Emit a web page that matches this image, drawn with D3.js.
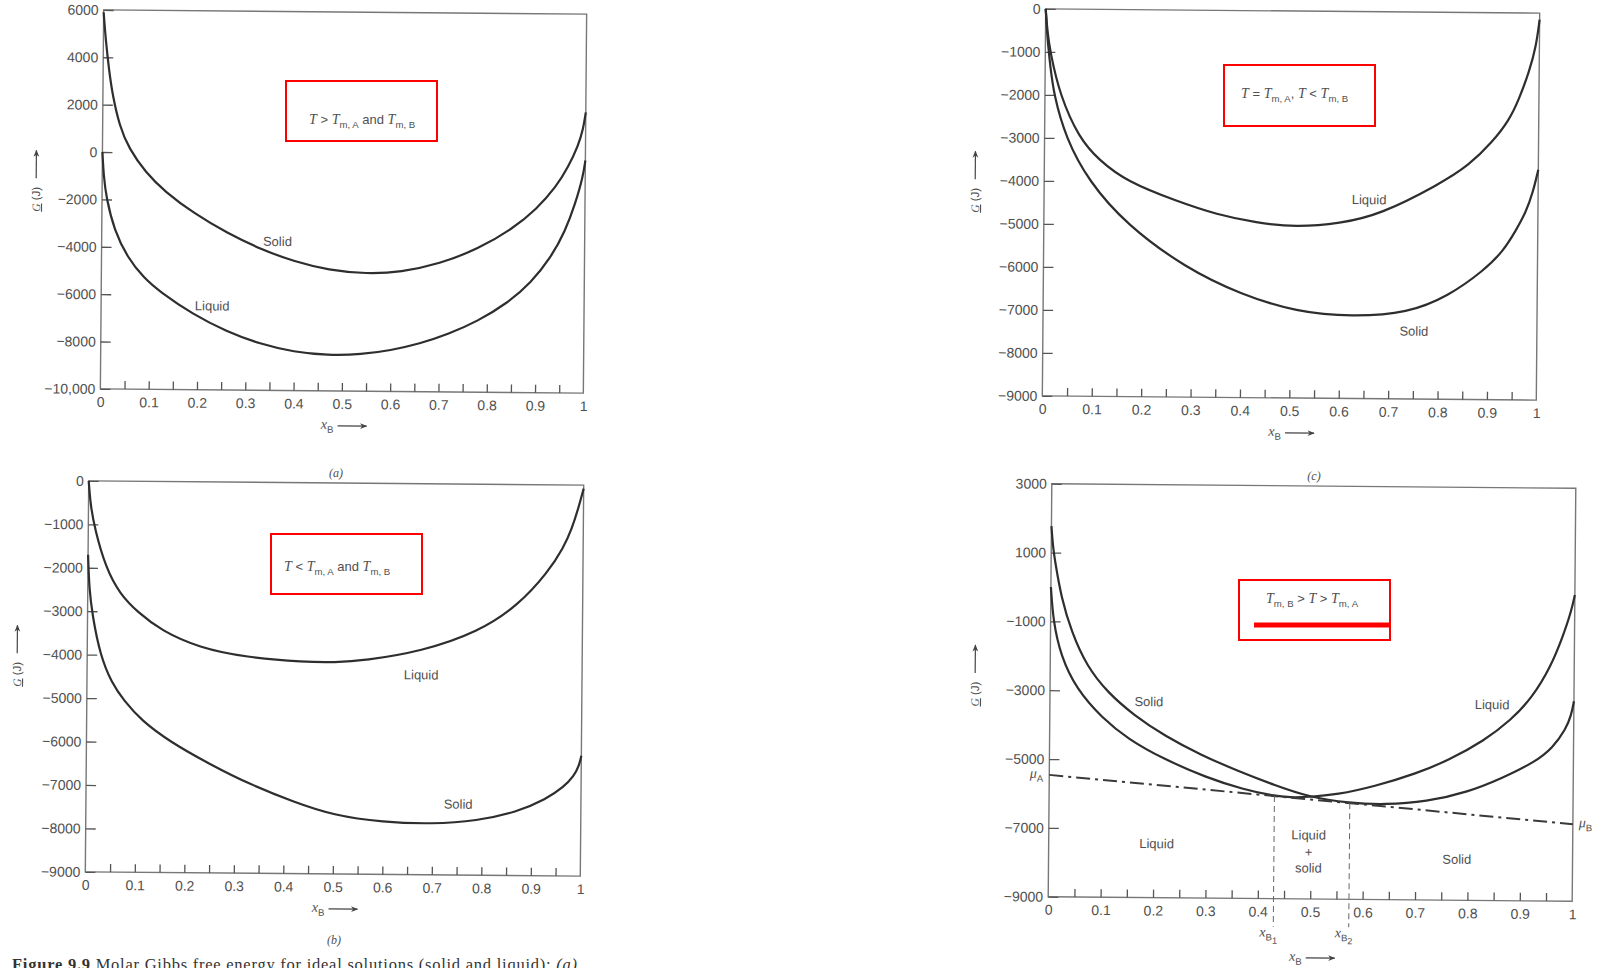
<!DOCTYPE html>
<html>
<head>
<meta charset="utf-8">
<script src="https://cdn.jsdelivr.net/npm/d3@7"></script>
<style>
body { margin: 0; background: #fff; }
svg { display: block; }
</style>
</head>
<body>
<svg id="chart" width="1601" height="968"></svg>
<script>
// tick values shared by the panels
var xLabels = [0, 0.1, 0.2, 0.3, 0.4, 0.5, 0.6, 0.7, 0.8, 0.9, 1];
var xMinor = [0.05, 0.1, 0.15, 0.2, 0.25, 0.3, 0.35, 0.4, 0.45, 0.5, 0.55, 0.6, 0.65, 0.7, 0.75, 0.8, 0.85, 0.9, 0.95];
var yTicksA = [6000, 4000, 2000, 0, -2000, -4000, -6000, -8000, -10000];
var yTicksB = [0, -1000, -2000, -3000, -4000, -5000, -6000, -7000, -8000, -9000];
var yTicksC = [0, -1000, -2000, -3000, -4000, -5000, -6000, -7000, -8000, -9000];
var yTicksD = [3000, 1000, -1000, -3000, -5000, -7000, -9000];

// (a) T > Tm,A and Tm,B   [xB, G in J]
var solidA = [[0, 5900], [0.005, 4700], [0.012, 3500], [0.02, 2400], [0.035, 1100], [0.055, 150], [0.09, -850],
  [0.13, -1650], [0.19, -2550], [0.26, -3380], [0.33, -4050], [0.4, -4560], [0.47, -4900], [0.55, -5050],
  [0.62, -4960], [0.7, -4600], [0.78, -3950], [0.85, -3100], [0.9, -2250], [0.94, -1300], [0.965, -450],
  [0.985, 450], [0.995, 1150], [1, 1850]];
var liquidA = [[0, 0], [0.003, -1000], [0.009, -1950], [0.026, -3300], [0.054, -4450], [0.088, -5300],
  [0.121, -5870], [0.19, -6820], [0.26, -7530], [0.33, -8050], [0.4, -8370], [0.47, -8500], [0.54, -8450],
  [0.6, -8270], [0.66, -7980], [0.72, -7560], [0.78, -7000], [0.84, -6250], [0.89, -5350], [0.93, -4300],
  [0.96, -3150], [0.98, -2000], [0.995, -900], [1, -180]];

// (b) T < Tm,A and Tm,B
var liquidB = [[0, 0], [0.004, -550], [0.013, -1100], [0.036, -2000], [0.065, -2600], [0.102, -3020],
  [0.149, -3430], [0.226, -3820], [0.32, -4030], [0.44, -4130], [0.5, -4130], [0.56, -4080], [0.675, -3860],
  [0.79, -3400], [0.87, -2780], [0.93, -2000], [0.96, -1450], [0.977, -1000], [0.99, -520], [1, -80]];
var solidB = [[0, -1700], [0.003, -2500], [0.01, -3100], [0.026, -4000], [0.05, -4650], [0.075, -5050],
  [0.11, -5500], [0.17, -6000], [0.25, -6500], [0.33, -6950], [0.42, -7350], [0.5, -7650], [0.6, -7800],
  [0.7, -7830], [0.79, -7750], [0.87, -7540], [0.93, -7230], [0.965, -6950], [0.985, -6700], [0.995, -6480],
  [1, -6230]];

// (c) T = Tm,A, T < Tm,B
var liquidC = [[0, 0], [0.004, -550], [0.01, -1000], [0.03, -2000], [0.07, -3000], [0.11, -3500],
  [0.167, -4000], [0.27, -4450], [0.35, -4750], [0.43, -4930], [0.51, -5030], [0.6, -4930], [0.68, -4720],
  [0.8, -4000], [0.86, -3550], [0.907, -3000], [0.94, -2500], [0.96, -2000], [0.98, -1350], [0.993, -800],
  [1, -150]];
var solidC = [[0, 0], [0.004, -700], [0.01, -1300], [0.018, -2000], [0.043, -3000], [0.09, -4000],
  [0.167, -5000], [0.288, -6000], [0.4, -6600], [0.513, -7000], [0.626, -7100], [0.739, -7000], [0.82, -6600],
  [0.891, -6000], [0.93, -5550], [0.956, -5050], [0.975, -4650], [0.99, -4150], [1, -3640]];

// (d) Tm,B > T > Tm,A
var solidD = [[0, 1770], [0.003, 1200], [0.008, 700], [0.02, -300], [0.04, -1300], [0.07, -2300],
  [0.11, -3050], [0.16, -3700], [0.22, -4300], [0.29, -4850], [0.36, -5300], [0.43, -5700], [0.495, -6035],
  [0.574, -6206], [0.64, -6240], [0.72, -6150], [0.8, -5850], [0.863, -5450], [0.927, -4960], [0.96, -4550],
  [0.985, -4000], [0.995, -3600], [1, -3190]];
var liquidD = [[0, 0], [0.005, -1000], [0.02, -2000], [0.05, -2950], [0.1, -3800], [0.15, -4400],
  [0.215, -4950], [0.3, -5500], [0.37, -5830], [0.43, -6020], [0.46, -6055], [0.495, -6040], [0.55, -5960],
  [0.62, -5720], [0.7, -5330], [0.76, -4950], [0.83, -4350], [0.88, -3750], [0.92, -3100], [0.955, -2200],
  [0.978, -1300], [0.993, -600], [1, -100]];
var tangentD = [[0, -5460], [1, -6760]];
var splitD = [0.43, 0.574];

var tilt = 0.5;
var inkText = "#505050";
var sans = "'Liberation Sans', Arial, sans-serif";
var serif = "'Liberation Serif', 'Times New Roman', serif";

var panels = [
  { tag: "(a)", left: 102, top: 12, right: 585, bottom: 391, yDomain: [-10000, 6000], yTicks: yTicksA,
    curves: [solidA, liquidA], labels: [["Solid", 0.364, -3710], ["Liquid", 0.23, -6454]],
    yTitle: [36, 202], tagPos: [336, 477] },
  { tag: "(b)", left: 87, top: 483, right: 582, bottom: 874, yDomain: [-9000, 0], yTicks: yTicksB,
    curves: [liquidB, solidB], labels: [["Liquid", 0.675, -4397], ["Solid", 0.752, -7366]],
    yTitle: [17, 677], tagPos: [334, 944] },
  { tag: "(c)", left: 1044, top: 11, right: 1538, bottom: 398, yDomain: [-9000, 0], yTicks: yTicksC,
    curves: [liquidC, solidC], labels: [["Liquid", 0.658, -4372], ["Solid", 0.751, -7419]],
    yTitle: [975, 203], tagPos: [1314, 480] },
  { tag: null, left: 1050, top: 486, right: 1574, bottom: 899, yDomain: [-9000, 3000], yTicks: yTicksD,
    curves: [solidD, liquidD],
    labels: [["Solid", 0.189, -3305], ["Liquid", 0.844, -3305], ["Liquid", 0.206, -7430],
             ["Liquid", 0.496, -7140], ["+", 0.496, -7633], ["solid", 0.496, -8098], ["Solid", 0.779, -7808]],
    yTitle: [975, 697], xTitleGap: 62 }
];

var svg = d3.select("#chart");
svg.append("rect").attr("width", 1601).attr("height", 968).attr("fill", "#fff");

var defs = svg.append("defs");
defs.append("marker").attr("id", "arr").attr("viewBox", "0 0 10 10")
  .attr("refX", 9).attr("refY", 5).attr("markerWidth", 6).attr("markerHeight", 6)
  .attr("orient", "auto")
  .append("path").attr("d", "M0,1 L10,5 L0,9 L3,5 Z").attr("fill", "#444");

function fmtG(v) {
  var a = Math.abs(v);
  var s = a >= 10000 ? d3.format(",")(a) : String(a);
  return v < 0 ? "\u2212" + s : s;
}
function fmtX(v) { return (v === 0 || v === 1) ? String(v) : v.toFixed(1); }

function styleAxis(sel) {
  sel.select(".domain").remove();
  sel.selectAll("line").attr("stroke", "#555").attr("stroke-width", 1.3);
  sel.selectAll("text").attr("fill", inkText).attr("font-family", sans).attr("font-size", 14);
}

// text built from pieces: it = italic serif, sub = subscript
function rich(parent, x, y, parts, size, anchor) {
  var t = parent.append("text").attr("x", x).attr("y", y).attr("fill", inkText)
    .attr("font-family", sans).attr("font-size", size).attr("text-anchor", anchor || "start");
  var shift = 0;
  parts.forEach(function(p) {
    var s = t.append("tspan").text(p[0]);
    var want = p[1] === "sub" ? Math.round(size * 0.28) : p[1] === "sub2" ? Math.round(size * 0.5) : 0;
    if (want !== shift) { s.attr("dy", want - shift); shift = want; }
    if (p[1] === "it") s.attr("font-family", serif).attr("font-style", "italic").attr("font-size", size * 1.08);
    if (p[1] === "sub") s.attr("font-size", size * 0.74);
    if (p[1] === "sub2") s.attr("font-size", size * 0.7);
  });
  return t;
}

function drawPanel(p) {
  var x = d3.scaleLinear().domain([0, 1]).range([p.left, p.right]);
  var y = d3.scaleLinear().domain(p.yDomain).range([p.bottom, p.top]);
  var cx = (p.left + p.right) / 2, cy = (p.top + p.bottom) / 2;
  var g = svg.append("g").attr("transform", "rotate(" + tilt + "," + cx + "," + cy + ")");

  g.append("rect").attr("x", p.left).attr("y", p.top)
    .attr("width", p.right - p.left).attr("height", p.bottom - p.top)
    .attr("fill", "none").attr("stroke", "#777").attr("stroke-width", 1.4);

  g.append("g").attr("transform", "translate(" + p.left + ",0)")
    .call(d3.axisLeft(y).tickValues(p.yTicks).tickSizeInner(-10).tickSizeOuter(0).tickPadding(5).tickFormat(fmtG))
    .call(styleAxis);
  g.append("g").attr("transform", "translate(0," + p.bottom + ")")
    .call(d3.axisBottom(x).tickValues(xMinor).tickSizeInner(-8).tickSizeOuter(0).tickFormat(""))
    .call(styleAxis);
  g.append("g").attr("transform", "translate(0," + p.bottom + ")")
    .call(d3.axisBottom(x).tickValues(xLabels).tickSize(0).tickPadding(8).tickFormat(fmtX))
    .call(styleAxis);

  var line = d3.line().x(function(d) { return x(d[0]); }).y(function(d) { return y(d[1]); })
    .curve(d3.curveBasis);
  p.curves.forEach(function(c) {
    g.append("path").attr("d", line(c)).attr("fill", "none")
      .attr("stroke", "#2e2e2e").attr("stroke-width", 2.2);
  });

  p.labels.forEach(function(l) {
    g.append("text").attr("x", x(l[1])).attr("y", y(l[2])).attr("dy", "0.35em")
      .attr("text-anchor", "middle").attr("font-family", sans).attr("font-size", 13)
      .attr("fill", inkText).text(l[0]);
  });

  // x title with arrow
  var xt = p.bottom + (p.xTitleGap || 38);
  rich(g, cx - 8, xt, [["x", "it"], ["B", "sub"]], 13, "end");
  g.append("line").attr("x1", cx - 4).attr("x2", cx + 25).attr("y1", xt - 3).attr("y2", xt - 3)
    .attr("stroke", "#444").attr("stroke-width", 1.2).attr("marker-end", "url(#arr)");

  // y title with arrow, rotated
  var yt = g.append("g").attr("transform", "translate(" + p.yTitle[0] + "," + p.yTitle[1] + ") rotate(-90)");
  var tt = yt.append("text").attr("x", 0).attr("y", 4).attr("text-anchor", "middle")
    .attr("font-family", sans).attr("font-size", 11.5).attr("fill", inkText);
  tt.append("tspan").text("G").attr("font-family", serif).attr("font-style", "italic")
    .attr("text-decoration", "underline");
  tt.append("tspan").text(" (J)");
  yt.append("line").attr("x1", 21).attr("x2", 49).attr("y1", 0).attr("y2", 0)
    .attr("stroke", "#444").attr("stroke-width", 1.2).attr("marker-end", "url(#arr)");

  if (p.tag) {
    svg.append("text").attr("x", p.tagPos[0]).attr("y", p.tagPos[1]).attr("text-anchor", "middle")
      .attr("font-family", serif).attr("font-style", "italic").attr("font-size", 12)
      .attr("fill", inkText).text(p.tag);
  }
  return { g: g, x: x, y: y };
}

var drawn = panels.map(drawPanel);

// common tangent construction in panel (d)
(function() {
  var d = drawn[3], p = panels[3];
  var lineT = d3.line().x(function(v) { return d.x(v[0]); }).y(function(v) { return d.y(v[1]); });
  d.g.append("path").attr("d", lineT(tangentD)).attr("fill", "none")
    .attr("stroke", "#3a3a3a").attr("stroke-width", 2).attr("stroke-dasharray", "14,5,3,5");
  var gAt = function(xv) { return tangentD[0][1] + (tangentD[1][1] - tangentD[0][1]) * xv; };
  splitD.forEach(function(xv, i) {
    d.g.append("line").attr("x1", d.x(xv)).attr("x2", d.x(xv))
      .attr("y1", d.y(gAt(xv))).attr("y2", p.bottom + 28)
      .attr("stroke", "#666").attr("stroke-width", 1).attr("stroke-dasharray", "6,4");
    rich(d.g, d.x(xv) - 5, p.bottom + 38, [["x", "it"], ["B", "sub"], [String(i + 1), "sub2"]], 13, "middle");
  });
  rich(d.g, p.left - 6, d.y(tangentD[0][1]) + 3, [["\u03bc", "it"], ["A", "sub"]], 13, "end");
  rich(d.g, p.right + 6, d.y(tangentD[1][1]) + 3, [["\u03bc", "it"], ["B", "sub"]], 13, "start");
})();

// red annotation boxes laid over the scan
var boxes = [
  { x: 286, y: 81, w: 151, h: 60, tx: 309, ty: 124,
    parts: [["T", "it"], [" > "], ["T", "it"], ["m, A", "sub"], [" and "], ["T", "it"], ["m, B", "sub"]] },
  { x: 1224, y: 65, w: 151, h: 61, tx: 1241, ty: 98,
    parts: [["T", "it"], [" = "], ["T", "it"], ["m, A", "sub"], [", "], ["T", "it"], [" < "], ["T", "it"], ["m, B", "sub"]] },
  { x: 271, y: 534, w: 151, h: 60, tx: 284, ty: 571,
    parts: [["T", "it"], [" < "], ["T", "it"], ["m, A", "sub"], [" and "], ["T", "it"], ["m, B", "sub"]] },
  { x: 1239, y: 580, w: 151, h: 60, tx: 1266, ty: 603,
    parts: [["T", "it"], ["m, B", "sub"], [" > "], ["T", "it"], [" > "], ["T", "it"], ["m, A", "sub"]] }
];
boxes.forEach(function(b) {
  rich(svg, b.tx, b.ty, b.parts, 13, "start");
  svg.append("rect").attr("x", b.x).attr("y", b.y).attr("width", b.w).attr("height", b.h)
    .attr("fill", "none").attr("stroke", "#f00").attr("stroke-width", 2);
});
svg.append("line").attr("x1", 1254).attr("x2", 1390).attr("y1", 625).attr("y2", 625)
  .attr("stroke", "#f00").attr("stroke-width", 5);

// caption, cut off by the bottom edge like the scan
var cap = svg.append("text").attr("x", 12).attr("y", 970).attr("font-family", serif)
  .attr("font-size", 16.5).attr("fill", "#333").attr("textLength", 565).attr("lengthAdjust", "spacing");
cap.append("tspan").attr("font-weight", "bold").text("Figure 9.9");
cap.append("tspan").text(" Molar Gibbs free energy for ideal solutions (solid and liquid): ");
cap.append("tspan").attr("font-style", "italic").text("(a)");
</script>
</body>
</html>
